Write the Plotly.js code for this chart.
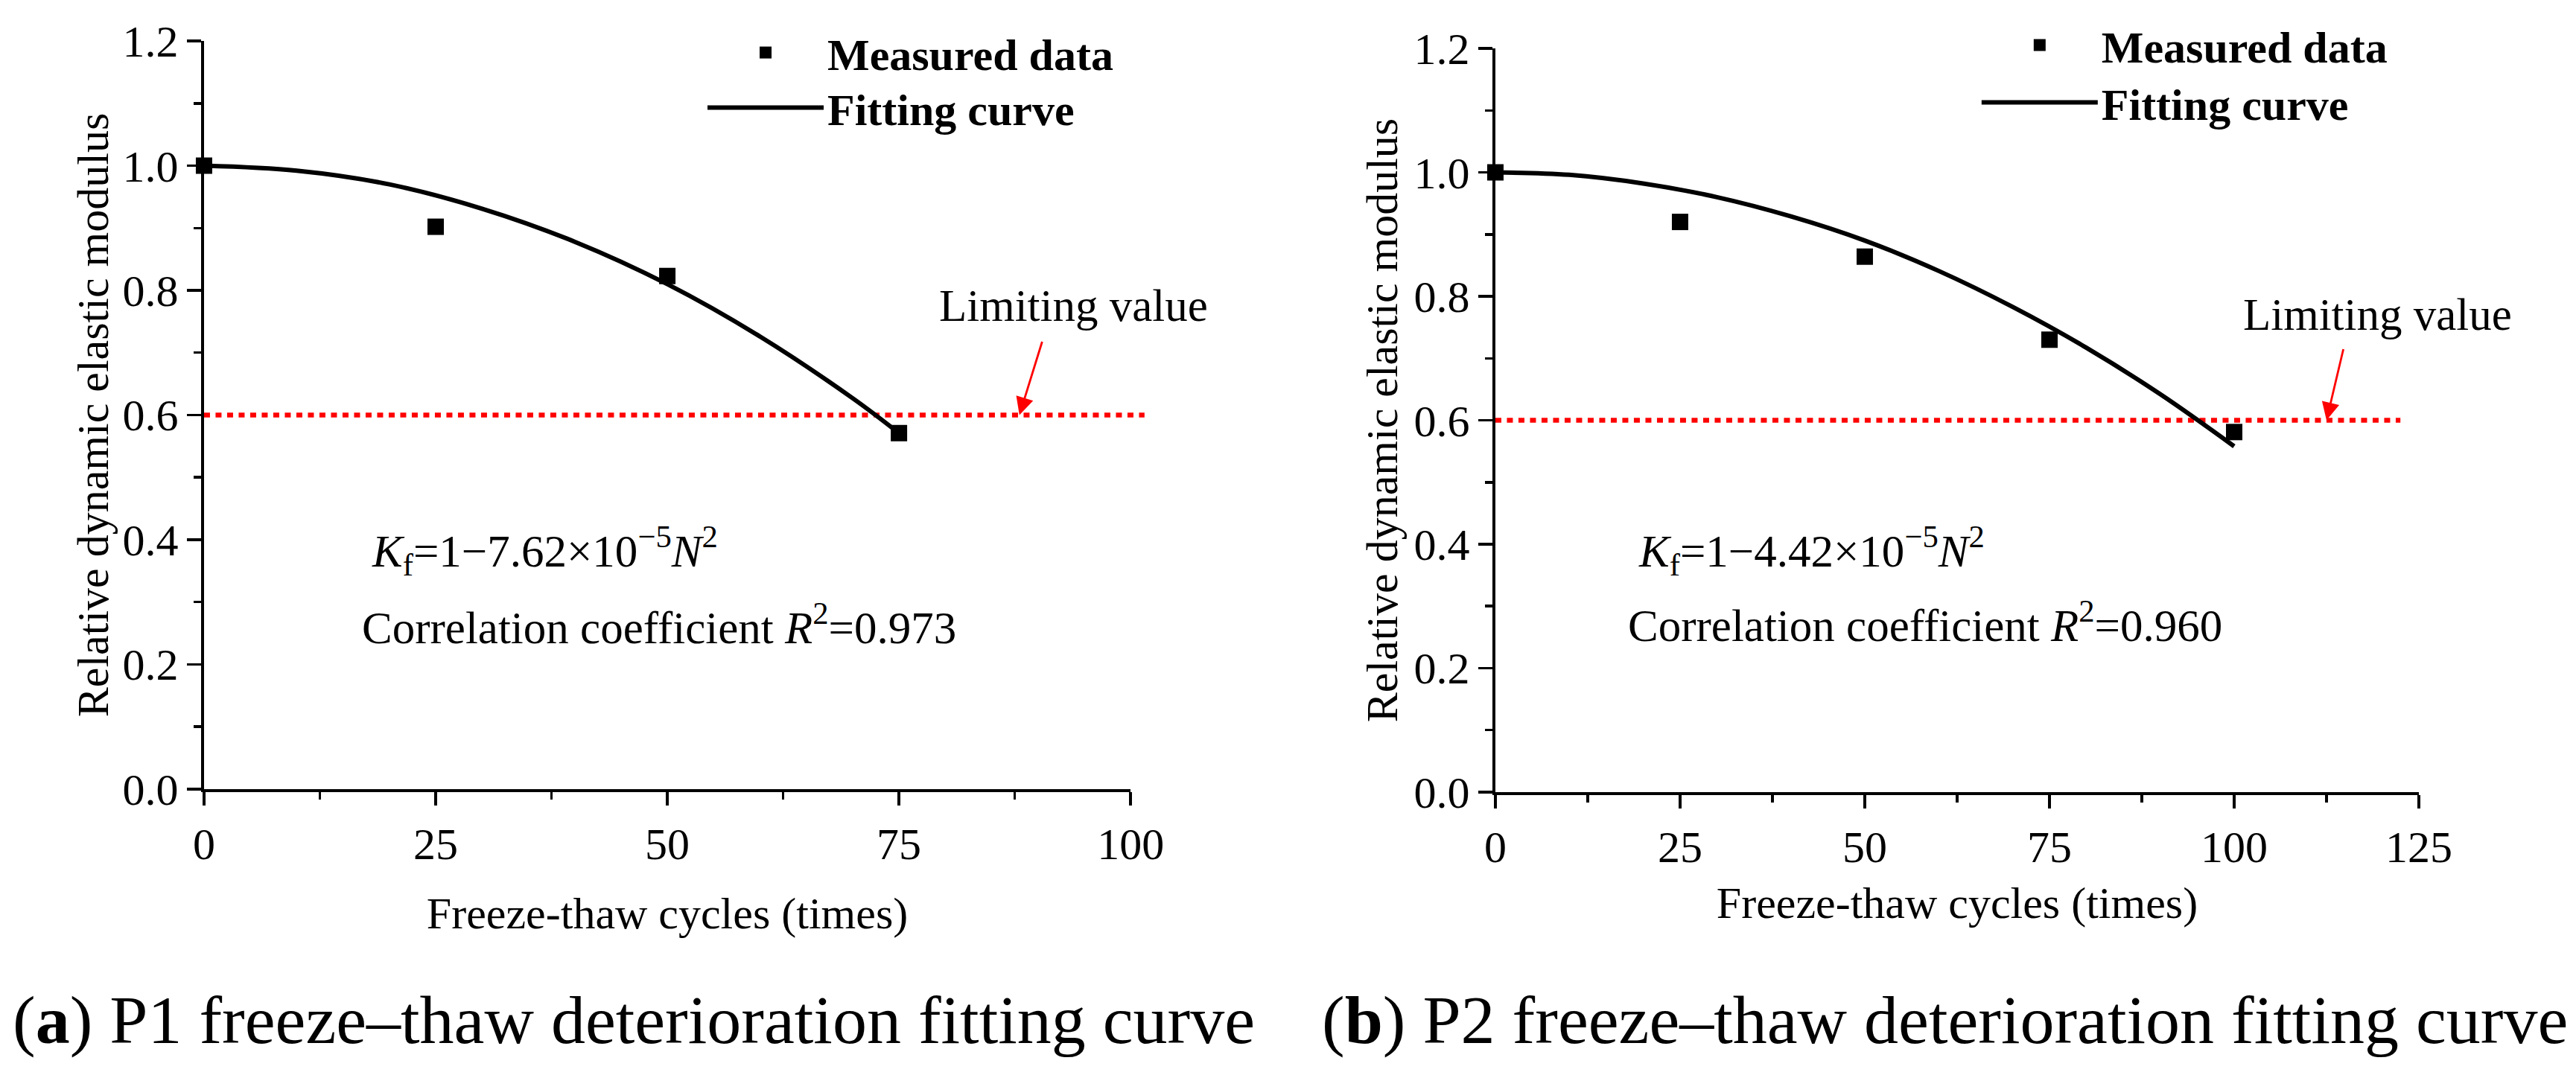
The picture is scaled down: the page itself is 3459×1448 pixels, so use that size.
<!DOCTYPE html>
<html>
<head>
<meta charset="utf-8">
<script src="https://cdn.plot.ly/plotly-3.0.1.min.js"></script>
<style>html,body{margin:0;padding:0;background:#fff;}#chart{width:3459px;height:1448px;}</style>
</head>
<body>
<div id="chart"></div>
<script>
// ---- Data ----
const cyclesP1 = [0, 25, 50, 75];
const measuredP1 = [1.0, 0.902, 0.823, 0.571];
const fitCyclesP1 = [0, 10, 20, 30, 40, 50, 60, 70, 75];
const fitValuesP1 = [1.0, 0.992, 0.970, 0.931, 0.878, 0.810, 0.726, 0.627, 0.571];

const cyclesP2 = [0, 25, 50, 75, 100];
const measuredP2 = [1.0, 0.920, 0.864, 0.730, 0.581];
const fitCyclesP2 = [0, 10, 20, 30, 40, 50, 60, 70, 80, 90, 100];
const fitValuesP2 = [1.0, 0.996, 0.982, 0.960, 0.929, 0.890, 0.841, 0.783, 0.717, 0.642, 0.558];

const limitValue = 0.6;
const limitEndP1 = 101.5;   // dotted limit line runs slightly past the axis end
const limitEndP2 = 122.5;
const arrowXP1 = 88;
const arrowXP2 = 112.5;

const xRangeP1 = [0, 100];
const xRangeP2 = [0, 125];
const xTicksP1 = [0, 25, 50, 75, 100];
const xTicksP2 = [0, 25, 50, 75, 100, 125];
const yTicks = [0.0, 0.2, 0.4, 0.6, 0.8, 1.0, 1.2];

const legendNames = ['Measured data', 'Fitting curve'];
const xTitle = 'Freeze-thaw cycles (times)';
const yTitle = 'Relative dynamic elastic modulus';
const eqP1 = '<i>K</i><sub>f</sub>=1\u22127.62\u00d710<sup>\u22125</sup><i>N</i><sup>2</sup>';
const eqP2 = '<i>K</i><sub>f</sub>=1\u22124.42\u00d710<sup>\u22125</sup><i>N</i><sup>2</sup>';
const corrP1 = 'Correlation coefficient <i>R</i><sup>2</sup>=0.973';
const corrP2 = 'Correlation coefficient <i>R</i><sup>2</sup>=0.960';
const captionP1 = '(<b>a</b>) P1 freeze\u2013thaw deterioration fitting curve';
const captionP2 = '(<b>b</b>) P2 freeze\u2013thaw deterioration fitting curve';
const limitLabel = 'Limiting value';

// ---- Styles ----
const FONT = 'Liberation Serif, Times New Roman, serif';
const FS = 60;

function pointsTrace(x, y, xa, ya, leg) {
  return {x: x, y: y, xaxis: xa, yaxis: ya, type: 'scatter', mode: 'markers',
    name: legendNames[0], legend: leg, cliponaxis: false,
    marker: {symbol: 'square', size: 22, color: '#000'}};
}
function curveTrace(x, y, xa, ya, leg) {
  return {x: x, y: y, xaxis: xa, yaxis: ya, type: 'scatter', mode: 'lines',
    name: legendNames[1], legend: leg, cliponaxis: false,
    line: {color: '#000', width: 6, shape: 'spline'}};
}

const data = [
  pointsTrace(cyclesP1, measuredP1, 'x', 'y', 'legend'),
  curveTrace(fitCyclesP1, fitValuesP1, 'x', 'y', 'legend2'),
  pointsTrace(cyclesP2, measuredP2, 'x2', 'y2', 'legend3'),
  curveTrace(fitCyclesP2, fitValuesP2, 'x2', 'y2', 'legend4')
];

function xAxis(domain, range, ticks, anchor, standoff) {
  return {domain: domain, range: range, anchor: anchor, tickvals: ticks,
    ticktext: ticks.map(String), showline: true, linecolor: '#000', linewidth: 4,
    ticks: 'outside', ticklen: 18, tickwidth: 3.5, tickcolor: '#000',
    minor: {dtick: 12.5, tick0: 0, ticks: 'outside', ticklen: 10, tickwidth: 3.5, tickcolor: '#000'},
    showgrid: false, zeroline: false, tickfont: {family: FONT, size: FS, color: '#000'},
    title: {text: xTitle, font: {family: FONT, size: FS, color: '#000'}, standoff: standoff},
    automargin: false};
}
function yAxis(domain, anchor, standoff) {
  return {domain: domain, range: [0, 1.2], anchor: anchor, tickvals: yTicks,
    ticktext: yTicks.map(v => v.toFixed(1)), showline: true, linecolor: '#000', linewidth: 3.5,
    ticks: 'outside', ticklen: 19, tickwidth: 3.5, tickcolor: '#000',
    minor: {dtick: 0.1, tick0: 0, ticks: 'outside', ticklen: 10, tickwidth: 3.5, tickcolor: '#000'},
    showgrid: false, zeroline: false, tickfont: {family: FONT, size: FS, color: '#000'},
    title: {text: yTitle, font: {family: FONT, size: FS, color: '#000'}, standoff: standoff},
    automargin: false};
}

function legendBox(x, y) {
  return {x: x, y: y, xanchor: 'left', yanchor: 'top', bgcolor: 'rgba(0,0,0,0)',
    borderwidth: 0, itemwidth: 156,
    font: {family: FONT, size: FS, color: '#000', weight: 'bold'}};
}

function txt(text, x, y, xref, yref, size, xanchor) {
  return {text: text, x: x, y: y, xref: xref, yref: yref, showarrow: false,
    xanchor: xanchor || 'left', yanchor: 'middle',
    font: {family: FONT, size: size || FS, color: '#000'}};
}
function arrow(x, y, xref, yref, ax, ay) {
  return {text: '', x: x, y: y, xref: xref, yref: yref, showarrow: true,
    ax: ax, ay: ay, arrowcolor: '#ff0000', arrowwidth: 2.8, arrowhead: 2, arrowsize: 1.7,
    standoff: 0};
}
function limitShape(xa, ya, endX, axisMax) {
  return {type: 'line', xref: xa + ' domain', yref: ya, x0: 0, x1: endX / axisMax,
    y0: limitValue, y1: limitValue, layer: 'below',
    line: {color: '#ff0000', width: 6.5, dash: '8px,7.5px'}};
}

const layout = {
  width: 3459, height: 1448,
  margin: {l: 0, r: 0, t: 0, b: 0},
  paper_bgcolor: '#fff', plot_bgcolor: '#fff',
  showlegend: true,
  xaxis: xAxis([0.0792, 0.4389], xRangeP1, xTicksP1, 'y', 40),
  yaxis: yAxis([0.268, 0.962], 'x', 0),
  xaxis2: xAxis([0.5805, 0.9390], xRangeP2, xTicksP2, 'y2', 22),
  yaxis2: yAxis([0.2652, 0.9551], 'x2', 3),
  legend: legendBox(0.2732, 0.9827),
  legend2: legendBox(0.2732, 0.9316),
  legend3: legendBox(0.7678, 0.9896),
  legend4: legendBox(0.7678, 0.9365),
  shapes: [
    limitShape('x', 'y', limitEndP1, xRangeP1[1]),
    limitShape('x2', 'y2', limitEndP2, xRangeP2[1])
  ],
  annotations: [
    txt(eqP1, 17.9, 0.383, 'x', 'y', 61),
    txt(corrP1, 16.9, 0.265, 'x', 'y', 61),
    txt(limitLabel, 79.2, 0.776, 'x', 'y', 61),
    arrow(arrowXP1, limitValue, 'x', 'y', 31, -100),
    txt(eqP2, 19.2, 0.390, 'x2', 'y2', 61),
    txt(corrP2, 17.7, 0.274, 'x2', 'y2', 61),
    txt(limitLabel, 101.0, 0.770, 'x2', 'y2', 61),
    arrow(arrowXP2, limitValue, 'x2', 'y2', 23, -97),
    txt(captionP1, 0.2461, 0.054, 'paper', 'paper', 92, 'center'),
    txt(captionP2, 0.7551, 0.054, 'paper', 'paper', 92, 'center')
  ]
};

Plotly.newPlot('chart', data, layout, {staticPlot: true, displayModeBar: false});
</script>
</body>
</html>
